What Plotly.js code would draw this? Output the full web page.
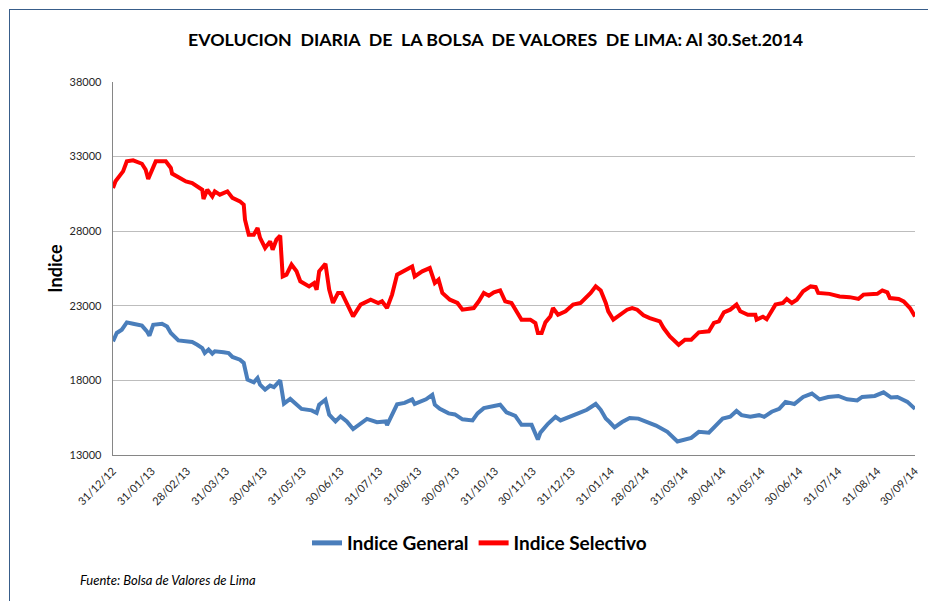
<!DOCTYPE html>
<html>
<head>
<meta charset="utf-8">
<script src="https://cdn.plot.ly/plotly-3.0.1.min.js"></script>
<style>
  html, body { margin: 0; padding: 0; background: #ffffff; }
  #wrap { position: relative; width: 928px; height: 601px; overflow: hidden; }
  #chart { position: absolute; left: 0; top: 0; width: 928px; height: 601px; }
  #frame { position: absolute; left: 9px; top: 9px; width: 930px; height: 600px;
           border-left: 1px solid #385d8a; border-top: 1px solid #385d8a; pointer-events: none; }
</style>
</head>
<body>
<div id="wrap">
  <div id="chart"></div>
  <div id="frame"></div>
</div>
<script>
// ---- Data ----
const titleText = "EVOLUCION\u00a0 DIARIA\u00a0 DE\u00a0 LA BOLSA\u00a0 DE VALORES\u00a0 DE LIMA: Al 30.Set.2014";
const yTitle = "Indice";
const sourceNote = "Fuente: Bolsa de Valores de Lima";
const seriesNames = ["Indice General", "Indice Selectivo"];

const tickDates = ["2012-12-31","2013-01-31","2013-02-28","2013-03-31","2013-04-30","2013-05-31","2013-06-30",
  "2013-07-31","2013-08-31","2013-09-30","2013-10-31","2013-11-30","2013-12-31","2014-01-31","2014-02-28",
  "2014-03-31","2014-04-30","2014-05-31","2014-06-30","2014-07-31","2014-08-31","2014-09-30"];
const tickLabels = ["31/12/12","31/01/13","28/02/13","31/03/13","30/04/13","31/05/13","30/06/13",
  "31/07/13","31/08/13","30/09/13","31/10/13","30/11/13","31/12/13","31/01/14","28/02/14",
  "31/03/14","30/04/14","31/05/14","30/06/14","31/07/14","31/08/14","30/09/14"];
const yTicks = [13000, 18000, 23000, 28000, 33000, 38000];

const generalDates = ["2012-12-31","2013-01-03","2013-01-07","2013-01-11","2013-01-16","2013-01-23","2013-01-27",
  "2013-01-29","2013-02-01","2013-02-08","2013-02-12","2013-02-15","2013-02-21","2013-02-28","2013-03-04",
  "2013-03-08","2013-03-12","2013-03-14","2013-03-17","2013-03-20","2013-03-22","2013-03-29","2013-04-02",
  "2013-04-05","2013-04-11","2013-04-14","2013-04-17","2013-04-22","2013-04-25","2013-04-27","2013-05-01",
  "2013-05-05","2013-05-08","2013-05-13","2013-05-16","2013-05-21","2013-05-26","2013-05-30","2013-06-07",
  "2013-06-11","2013-06-13","2013-06-18","2013-06-21","2013-06-26","2013-06-30","2013-07-05","2013-07-10",
  "2013-07-16","2013-07-21","2013-07-29","2013-08-05","2013-08-06","2013-08-10","2013-08-14","2013-08-20",
  "2013-08-26","2013-08-28","2013-09-06","2013-09-11","2013-09-13","2013-09-17","2013-09-24","2013-09-29",
  "2013-10-05","2013-10-13","2013-10-17","2013-10-22","2013-10-29","2013-11-04","2013-11-09","2013-11-16",
  "2013-11-21","2013-11-29","2013-12-04","2013-12-06","2013-12-12","2013-12-18","2013-12-22","2013-12-30",
  "2014-01-05","2014-01-12","2014-01-19","2014-01-23","2014-01-27","2014-01-30","2014-02-03","2014-02-09",
  "2014-02-15","2014-02-22","2014-02-28","2014-03-08","2014-03-17","2014-03-25","2014-04-05","2014-04-11",
  "2014-04-19","2014-04-25","2014-04-30","2014-05-06","2014-05-11","2014-05-15","2014-05-22","2014-05-29",
  "2014-06-02","2014-06-08","2014-06-14","2014-06-19","2014-06-26","2014-07-03","2014-07-10","2014-07-16",
  "2014-07-23","2014-07-31","2014-08-07","2014-08-15","2014-08-19","2014-08-29","2014-09-05","2014-09-11",
  "2014-09-16","2014-09-24","2014-09-30"];
const generalValues = [20620,21180,21400,21890,21800,21670,21290,
  21000,21730,21800,21620,21180,20680,20620,20570,
  20390,20170,19840,20070,19790,19950,19880,19830,
  19570,19390,19170,18050,17870,18160,17710,17380,
  17650,17550,18000,16440,16760,16370,16090,15990,
  15820,16370,16710,15700,15250,15590,15250,14740,
  15100,15420,15200,15250,15000,15650,16400,16490,
  16730,16420,16730,17030,16370,16090,15790,15720,
  15390,15320,15790,16140,16260,16370,15860,15620,
  15020,15020,14040,14500,15090,15560,15320,15560,
  15790,16030,16420,16030,15440,15210,14850,15210,
  15480,15440,15210,14970,14550,13910,14150,14550,
  14500,14970,15440,15560,15950,15670,15560,15670,
  15560,15900,16090,16560,16420,16890,17120,16730,
  16890,16960,16730,16660,16890,16960,17200,16850,
  16890,16560,16090];

const selectivoDates = ["2012-12-31","2013-01-02","2013-01-06","2013-01-08","2013-01-11","2013-01-16","2013-01-23",
  "2013-01-26","2013-01-28","2013-01-31","2013-02-03","2013-02-11","2013-02-15","2013-02-16","2013-02-23",
  "2013-02-27","2013-03-04","2013-03-08","2013-03-12","2013-03-13","2013-03-16","2013-03-20","2013-03-22",
  "2013-03-26","2013-04-01","2013-04-05","2013-04-11","2013-04-14","2013-04-15","2013-04-18","2013-04-22",
  "2013-04-25","2013-04-27","2013-05-01","2013-05-05","2013-05-07","2013-05-10","2013-05-13","2013-05-15",
  "2013-05-18","2013-05-22","2013-05-26","2013-05-29","2013-06-05","2013-06-09","2013-06-11","2013-06-13",
  "2013-06-18","2013-06-21","2013-06-24","2013-06-28","2013-07-01","2013-07-05","2013-07-10","2013-07-16",
  "2013-07-24","2013-07-30","2013-08-02","2013-08-06","2013-08-10","2013-08-14","2013-08-19","2013-08-26",
  "2013-08-28","2013-09-03","2013-09-09","2013-09-13","2013-09-16","2013-09-19","2013-09-25","2013-10-01",
  "2013-10-05","2013-10-14","2013-10-18","2013-10-22","2013-10-26","2013-10-30","2013-11-04","2013-11-08",
  "2013-11-13","2013-11-17","2013-11-21","2013-11-28","2013-12-02","2013-12-04","2013-12-07","2013-12-10",
  "2013-12-14","2013-12-16","2013-12-20","2013-12-26","2014-01-01","2014-01-07","2014-01-11","2014-01-15",
  "2014-01-19","2014-01-23","2014-01-27","2014-01-29","2014-02-02","2014-02-07","2014-02-13","2014-02-17",
  "2014-02-21","2014-02-26","2014-03-03","2014-03-11","2014-03-14","2014-03-19","2014-03-26","2014-03-31",
  "2014-04-05","2014-04-11","2014-04-19","2014-04-23","2014-04-27","2014-05-01","2014-05-06","2014-05-11",
  "2014-05-14","2014-05-20","2014-05-26","2014-05-27","2014-06-01","2014-06-04","2014-06-11","2014-06-17",
  "2014-06-20","2014-06-24","2014-06-28","2014-07-03","2014-07-09","2014-07-13","2014-07-15","2014-07-24",
  "2014-08-01","2014-08-09","2014-08-16","2014-08-20","2014-08-31","2014-09-04","2014-09-08","2014-09-10",
  "2014-09-17","2014-09-21","2014-09-26","2014-09-30"];
const selectivoValues = [30900,31350,31790,32010,32680,32750,32520,
  32120,31500,32120,32680,32680,32240,31860,31570,
  31340,31230,31000,30780,30160,30780,30330,30670,
  30450,30670,30230,30000,29780,28770,27770,27770,
  28220,27550,26880,27320,26760,27430,27700,24970,
  25090,25760,25310,24640,24300,24530,24080,25310,
  25820,24080,23190,23860,23860,23190,22290,23080,
  23410,23190,23300,22850,23750,25090,25310,25640,
  24970,25310,25530,24530,24750,23860,23410,23190,
  22740,22850,23300,23860,23680,23900,24030,23300,
  23190,22630,22070,22070,21850,21180,21180,21890,
  22290,22850,22400,22630,23080,23190,23520,23860,
  24300,24030,23190,22630,22070,22400,22740,22850,
  22740,22370,22180,21960,21510,20950,20390,20730,
  20730,21220,21290,21850,21960,22560,22740,23080,
  22630,22400,22400,22070,22270,22100,23080,23190,
  23460,23190,23410,23970,24300,24250,23860,23800,
  23630,23580,23460,23750,23800,24030,23900,23520,
  23460,23300,22850,22290];

const colors = ["#4a7ebb", "#ff0000"];
const FONT = "Lato, 'Open Sans', sans-serif";

const traces = [
  { x: generalDates, y: generalValues, name: seriesNames[0], type: "scatter", mode: "lines",
    line: { color: colors[0], width: 4 } },
  { x: selectivoDates, y: selectivoValues, name: seriesNames[1], type: "scatter", mode: "lines",
    line: { color: colors[1], width: 4 } }
];

const layout = {
  width: 928, height: 601,
  paper_bgcolor: "rgba(0,0,0,0)", plot_bgcolor: "#ffffff",
  margin: { l: 113, r: 13, t: 82, b: 146 },
  font: { family: FONT, color: "#404040" },
  title: {
    text: "<b>" + titleText + "</b>",
    font: { family: FONT, size: 17.8, color: "#000000" },
    x: 0.534, xref: "container", xanchor: "center",
    y: 0.933, yref: "container", yanchor: "middle"
  },
  xaxis: {
    type: "date",
    range: [tickDates[0], tickDates[tickDates.length - 1]],
    tickmode: "array", tickvals: tickDates, ticktext: tickLabels,
    tickangle: -45, tickfont: { family: FONT, size: 11, color: "#262626" },
    ticks: "outside", ticklen: 4, tickcolor: "rgba(0,0,0,0)",
    showgrid: false, zeroline: false,
    showline: true, linecolor: "#868686", linewidth: 1.3
  },
  yaxis: {
    range: [13000, 38000],
    tickmode: "array", tickvals: yTicks, ticktext: yTicks.map(String),
    tickfont: { family: FONT, size: 11, color: "#262626" },
    ticks: "outside", ticklen: 8, tickcolor: "rgba(0,0,0,0)",
    showgrid: true, gridcolor: "#bdbdbd", gridwidth: 1,
    zeroline: false, showline: true, linecolor: "#868686", linewidth: 1.3,
    title: { text: "<b>" + yTitle + "</b>", font: { family: FONT, size: 18, color: "#000000" }, standoff: 2 }
  },
  showlegend: true,
  legend: {
    orientation: "h", x: 0.457, xanchor: "center", y: -0.236, yanchor: "middle",
    font: { family: FONT, size: 19, color: "#000000", weight: "bold" },
    itemwidth: 30, itemsizing: "constant", bgcolor: "rgba(0,0,0,0)", traceorder: "normal"
  },
  annotations: [{
    text: "<i>" + sourceNote + "</i>", xref: "paper", yref: "paper",
    x: -0.0436, xanchor: "left", y: -0.335, yanchor: "middle",
    showarrow: false, font: { family: FONT, size: 13, color: "#000000" }
  }]
};

Plotly.newPlot("chart", traces, layout, { staticPlot: true, displayModeBar: false });
</script>
</body>
</html>
